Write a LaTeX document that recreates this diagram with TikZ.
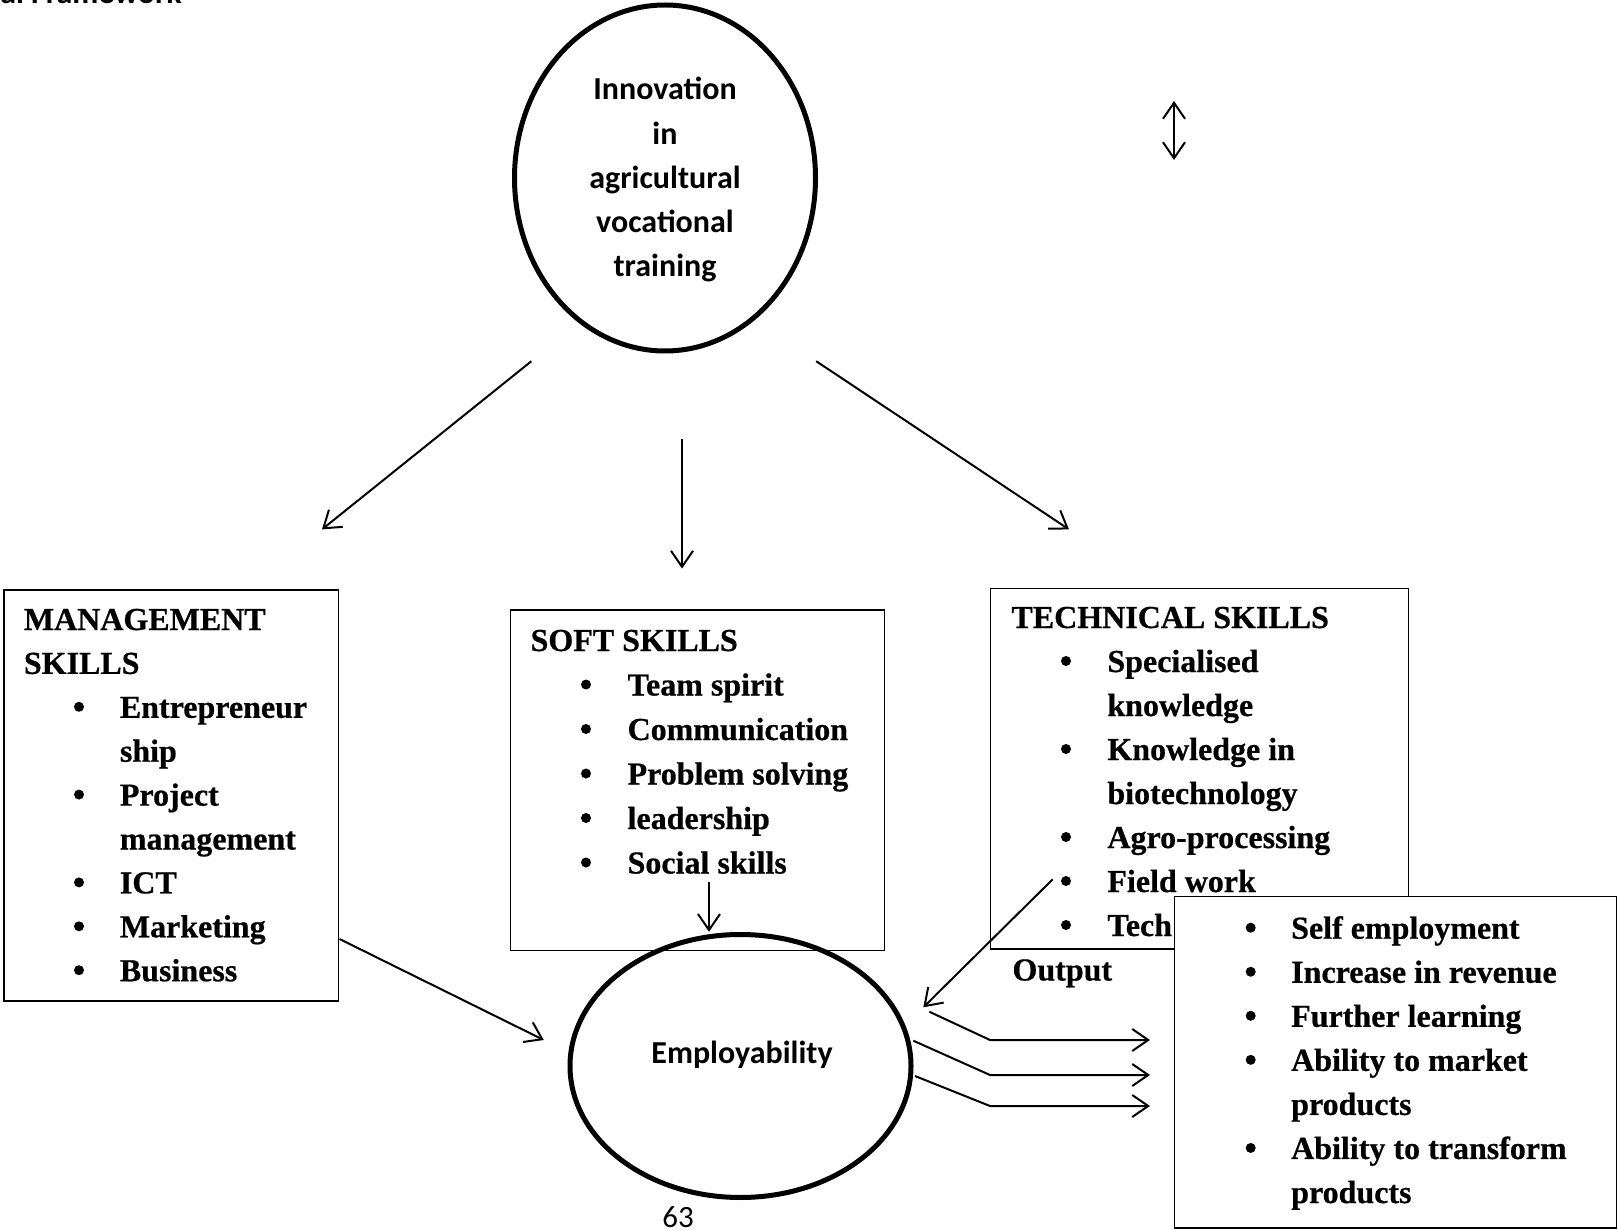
\documentclass[tikz,border=0pt]{standalone}
\usepackage{fontspec}
\setmainfont{Liberation Serif}[BoldFeatures={FakeBold=0.6}]
\newfontfamily\calibrifont{Carlito}
\usetikzlibrary{arrows.meta,shapes.geometric}
\newcommand{\blitem}[5]{%
  \fill (#1,#3-11) circle (5);
  \node[txt] (#5) at (#2,#3) {#4};}
\begin{document}
\begin{tikzpicture}[x=1pt,y=-1pt,
  txt/.style={anchor=base west, inner sep=0pt, font=\fontsize{32}{44}\selectfont\bfseries},
  ctxt/.style={anchor=base, inner sep=0pt, font=\calibrifont\fontsize{32}{44}\selectfont\bfseries},
  oval/.style={draw, ellipse, line width=5pt, inner sep=0pt},
  boxx/.style={draw, line width=1.2pt},
  conn/.style={line width=2pt, -{Straight Barb[length=16pt,width=22pt,line width=2pt]}},
  dconn/.style={line width=2pt, {Straight Barb[length=16pt,width=22pt,line width=2pt]}-{Straight Barb[length=16pt,width=22pt,line width=2pt]}}]
\useasboundingbox (0,0) rectangle (1618,1230);

% clipped heading
\node[anchor=base east, inner sep=0pt, font=\calibrifont\fontsize{32}{44}\selectfont\bfseries] (head) at (182,3.5) {al Framework};

% top ellipse
\node[oval, minimum width=301pt, minimum height=346pt] (innov) at (665,178) {};
\node[ctxt] (i1) at (665,100) {Innovation};
\node[ctxt] (i2) at (665,144.2) {in};
\node[ctxt] (i3) at (665,188.4) {agricultural};
\node[ctxt] (i4) at (665,232.6) {vocational};
\node[ctxt] (i5) at (665,276.8) {training};

% double arrow
\coordinate (dtop) at (1174,101);
\coordinate (dbot) at (1174,160);
\draw[dconn] (dtop) -- (dbot);

% arrows from top
\coordinate (a1s) at (531.4,361.2); \coordinate (a1e) at (322,529.4);
\coordinate (a2s) at (682,438.6);   \coordinate (a2e) at (682,568.6);
\coordinate (a3s) at (816.2,361.2); \coordinate (a3e) at (1069,529.4);
\draw[conn] (a1s) -- (a1e);
\draw[conn] (a2s) -- (a2e);
\draw[conn] (a3s) -- (a3e);

% management box
\draw[boxx] (4,590) rectangle (338.5,1001);
\node[txt] (m0) at (23.7,630) {MANAGEMENT};
\node[txt] (m00) at (23.7,673.9) {SKILLS};
\blitem{79}{119.7}{717.8}{Entrepreneur}{m1}
\node[txt] (m1b) at (119.7,761.7) {ship};
\blitem{79}{119.7}{805.6}{Project}{m2}
\node[txt] (m2b) at (119.7,849.5) {management};
\blitem{79}{119.7}{893.4}{ICT}{m3}
\blitem{79}{119.7}{937.3}{Marketing}{m4}
\blitem{79}{119.7}{981.2}{Business}{m5}

% soft skills box
\draw[boxx] (510.8,610) rectangle (884.3,950.4);
\node[txt] (s0) at (530.4,651) {SOFT SKILLS};
\blitem{586}{627.4}{695.5}{Team spirit}{s1}
\blitem{586}{627.4}{740}{Communication}{s2}
\blitem{586}{627.4}{784.5}{Problem solving}{s3}
\blitem{586}{627.4}{829}{leadership}{s4}
\blitem{586}{627.4}{873.5}{Social skills}{s5}

% technical box
\draw[boxx] (990.6,588.2) rectangle (1408.6,949);
\node[txt] (t0) at (1011.3,628) {TECHNICAL SKILLS};
\blitem{1066}{1107.2}{672}{Specialised}{t1}
\node[txt] (t1b) at (1107.2,716) {knowledge};
\blitem{1066}{1107.2}{760}{Knowledge in}{t2}
\node[txt] (t2b) at (1107.2,804) {biotechnology};
\blitem{1066}{1107.2}{848}{Agro-processing}{t3}
\blitem{1066}{1107.2}{892}{Field work}{t4}
\blitem{1066}{1107.2}{936}{Tech}{t5}
\node[txt] (outlbl) at (1012.3,980.5) {Output};

% output box
\draw[boxx, fill=white] (1174.3,896.8) rectangle (1616.5,1228);
\blitem{1250.7}{1291}{938.7}{Self employment}{o1}
\blitem{1250.7}{1291}{982.75}{Increase in revenue}{o2}
\blitem{1250.7}{1291}{1026.8}{Further learning}{o3}
\blitem{1250.7}{1291}{1070.85}{Ability to market}{o4}
\node[txt] (o4b) at (1291,1114.9) {products};
\blitem{1250.7}{1291}{1158.95}{Ability to transform}{o5}
\node[txt] (o5b) at (1291,1203) {products};

% employability ellipse
\node[oval, minimum width=341pt, minimum height=263pt] (emp) at (740.5,1066) {};
\node[ctxt] (empt) at (742,1063) {Employability};

% arrows into employability
\coordinate (b1s) at (339.5,939);    \coordinate (b1e) at (543.8,1040);
\coordinate (b2s) at (709,882.3);    \coordinate (b2e) at (709,931.8);
\coordinate (b3s) at (1052.7,879.3); \coordinate (b3e) at (923.3,1007.3);
\draw[conn] (b1s) -- (b1e);
\draw[conn] (b2s) -- (b2e);
\draw[conn] (b3s) -- (b3e);

% output arrows
\coordinate (c1s) at (929.3,1011.7); \coordinate (c1m) at (990,1040); \coordinate (c1e) at (1150,1040);
\coordinate (c2s) at (913.3,1040.7); \coordinate (c2m) at (990,1075); \coordinate (c2e) at (1150,1075);
\coordinate (c3s) at (915,1076);     \coordinate (c3m) at (990,1106); \coordinate (c3e) at (1150,1106);
\draw[conn] (c1s) -- (c1m) -- (c1e);
\draw[conn] (c2s) -- (c2m) -- (c2e);
\draw[conn] (c3s) -- (c3m) -- (c3e);

% page number
\node[anchor=base, inner sep=0pt, font=\calibrifont\fontsize{31}{36}\selectfont] (pg) at (678,1227) {63};
\end{tikzpicture}
\end{document}
